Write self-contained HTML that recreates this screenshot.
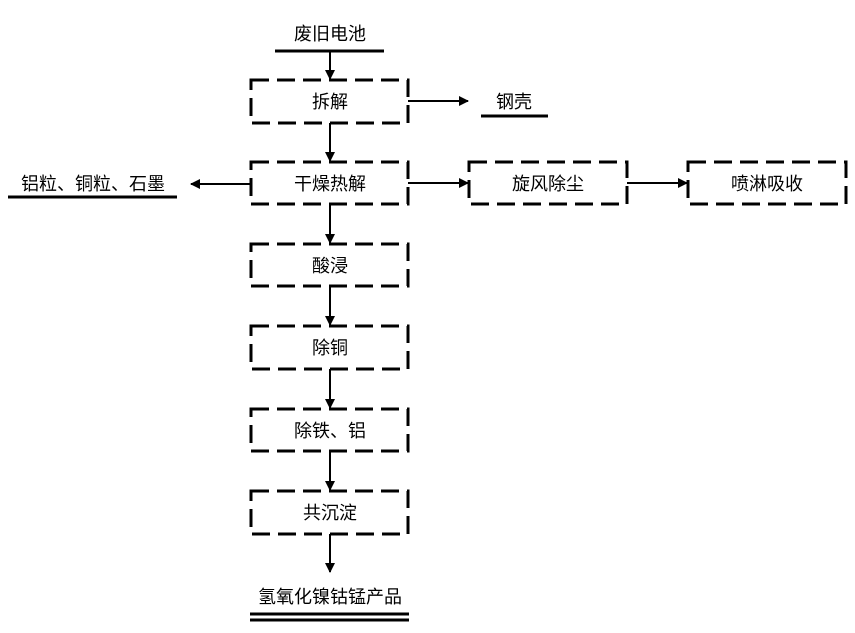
<html><body style="margin:0;background:#fff">
<svg width="855" height="633" xmlns="http://www.w3.org/2000/svg" font-family="Liberation Sans, Noto Sans CJK SC, sans-serif" font-size="18">
<defs><marker id="a" markerWidth="10" markerHeight="10" refX="9" refY="5" orient="auto" markerUnits="userSpaceOnUse"><path d="M0,0 L10,5 L0,10 z" fill="#000"/></marker></defs>
<g fill="none" stroke="#000" stroke-width="3" stroke-dasharray="18,8">
<rect x="251" y="80" width="157" height="43"/>
<rect x="251" y="162" width="157" height="42"/>
<rect x="251" y="244" width="157" height="42"/>
<rect x="251" y="326" width="157" height="43"/>
<rect x="251" y="409" width="157" height="42"/>
<rect x="251" y="491" width="157" height="43"/>
<rect x="469" y="162" width="158" height="42"/>
<rect x="688" y="162" width="158" height="42"/>
</g>
<g stroke="#000" stroke-width="2" marker-end="url(#a)">
<line x1="330" y1="52" x2="330" y2="79"/>
<line x1="330" y1="123" x2="330" y2="161"/>
<line x1="330" y1="204" x2="330" y2="243"/>
<line x1="330" y1="286" x2="330" y2="325"/>
<line x1="330" y1="369" x2="330" y2="408"/>
<line x1="330" y1="451" x2="330" y2="490"/>
<line x1="330" y1="534" x2="330" y2="572"/>
<line x1="408" y1="101" x2="468" y2="101"/>
<line x1="408" y1="183" x2="468" y2="183"/>
<line x1="627" y1="183" x2="687" y2="183"/>
<line x1="250" y1="184" x2="191" y2="184"/>
</g>
<g stroke="#000" stroke-width="3">
<line x1="275" y1="51" x2="384" y2="51"/>
<line x1="481" y1="116" x2="548" y2="116"/>
<line x1="8" y1="197" x2="177" y2="197"/>
<line x1="250" y1="614" x2="409" y2="614"/>
<line x1="250" y1="620" x2="409" y2="620"/>
</g>
<g text-anchor="middle" fill="#000">
<text x="330" y="40">废旧电池</text>
<text x="330" y="108">拆解</text>
<text x="330" y="190">干燥热解</text>
<text x="330" y="272">酸浸</text>
<text x="330" y="354">除铜</text>
<text x="330" y="437">除铁、铝</text>
<text x="330" y="519">共沉淀</text>
<text x="330" y="603">氢氧化镍钴锰产品</text>
<text x="514" y="108">钢壳</text>
<text x="93" y="190">铝粒、铜粒、石墨</text>
<text x="548" y="190">旋风除尘</text>
<text x="767" y="190">喷淋吸收</text>
</g>
</svg>
</body></html>
